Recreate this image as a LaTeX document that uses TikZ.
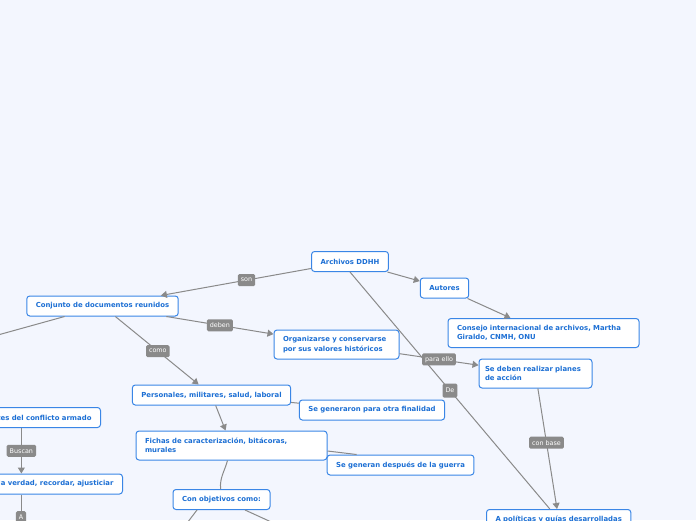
\documentclass[tikz,border=0pt]{standalone}
\usepackage{fontspec}
\setmainfont{DejaVu Sans}
\usetikzlibrary{arrows.meta, calc}

\definecolor{bgblue}{HTML}{F3F6FE}
\definecolor{boxblue}{HTML}{3A86E6}
\definecolor{textblue}{HTML}{1C6FD4}
\definecolor{linegray}{HTML}{8A8A8A}
\definecolor{taggray}{HTML}{8A8A8A}

\begin{document}
\begin{tikzpicture}[
    x=1pt, y=-1pt,
    topic/.style={rectangle, rounded corners=3pt, draw=boxblue, line width=1pt, fill=white, text=textblue, font=\bfseries\fontsize{6.9}{9.5}\selectfont, inner xsep=9pt, inner ysep=3pt, minimum height=20pt},
    twoline/.style={topic, align=left, minimum height=29pt},
    tag/.style={rectangle, rounded corners=1.5pt, fill=taggray, text=white, font=\fontsize{6.4}{7}\selectfont, inner xsep=3pt, inner ysep=1pt, minimum height=12pt},
    link/.style={draw=linegray, line width=1pt},
    arrow/.style={link, -{Triangle[length=6pt, width=7pt]}}
]

% Frame
\path[use as bounding box, fill=bgblue] (0, 0) rectangle (696, 520);
\clip (0, 0) rectangle (696, 520);

% Topics
\node[topic, minimum width=76pt] (archivos) at (350, 261.5) {Archivos DDHH};
\node[topic, minimum width=151pt] (conjunto) at (102.5, 306) {Conjunto de documentos reunidos};
\node[topic, minimum width=47pt] (autores) at (444.5, 288) {Autores};
\node[twoline, text width=173pt] (consejo) at (543.5, 333) {Consejo internacional de archivos, Martha\\Giraldo, CNMH, ONU};
\node[twoline, text width=107pt] (organizarse) at (336.5, 344.5) {Organizarse y conservarse\\por sus valores históricos};
\node[twoline, text width=101pt, inner xsep=6pt] (planes) at (535.5, 373.5) {Se deben realizar planes\\de acción};
\node[topic, minimum width=157pt] (personales) at (211.5, 395) {Personales, militares, salud, laboral};
\node[topic, minimum width=144pt] (otrafin) at (372, 410) {Se generaron para otra finalidad};
\node[twoline, text width=173pt] (fichas) at (231.5, 445.5) {Fichas de caracterización, bitácoras,\\murales};
\node[topic, minimum width=145pt] (guerra) at (400.5, 465) {Se generan después de la guerra};
\node[topic, minimum width=97pt] (objetivos) at (221.5, 499.5) {Con objetivos como:};
\node[topic, anchor=east] (victimas) at (101, 417.5) {Sobrevivientes del conflicto armado};
\node[topic, anchor=east] (verdad) at (123, 484) {Conocer la verdad, recordar, ajusticiar};
\node[topic, anchor=north west, minimum width=143pt] (politicas) at (486, 509) {A políticas y guías desarrolladas};

% Ends outside the frame
\coordinate (offconj) at (-100, 362.1);
\coordinate (offobjl) at (181, 531);
\coordinate (offobjr) at (291, 531);
\coordinate (offA) at (21, 545);

% Archivos DDHH
\draw[arrow] (archivos) -- node[tag, pos=0.43] (tson) {son} (conjunto);
\draw[arrow] (archivos) -- (autores);
\draw[arrow] (autores) -- (consejo);
\draw[link] (archivos.south) -- node[tag, minimum height=14pt] (tde) {De} (politicas);

% Conjunto de documentos
\draw[link] (conjunto) -- (offconj);
\draw[arrow] (conjunto) -- node[tag] (tdeben) {deben} (organizarse);
\draw[arrow] (conjunto) -- node[tag, pos=0.51] (tcomo) {como} (personales);
\draw[arrow] (organizarse) -- node[tag] (tpara) {para ello} (planes);
\draw[arrow] (planes) -- node[tag, pos=0.45] (tbase) {con base} (politicas);

% Personales
\draw[arrow] (personales) -- (fichas);
\draw[link] (personales) -- (otrafin);
\draw[link] ([yshift=-5.5pt]fichas.east) -- ([xshift=30pt]guerra.north west);
\draw[link] (fichas) to[out=-105, in=95] (objetivos);
\draw[link] ([xshift=-24.5pt]objetivos.south) -- (offobjl);
\draw[link] ([xshift=23.5pt]objetivos.south) -- (offobjr);

% Left branch
\draw[arrow] (victimas.south) -- node[tag] (tbuscan) {Buscan} (victimas.south |- verdad.north);
\draw[link] (verdad.south -| offA) -- node[tag, pos=0.45] (ta) {A} (offA);

\end{tikzpicture}
\end{document}
